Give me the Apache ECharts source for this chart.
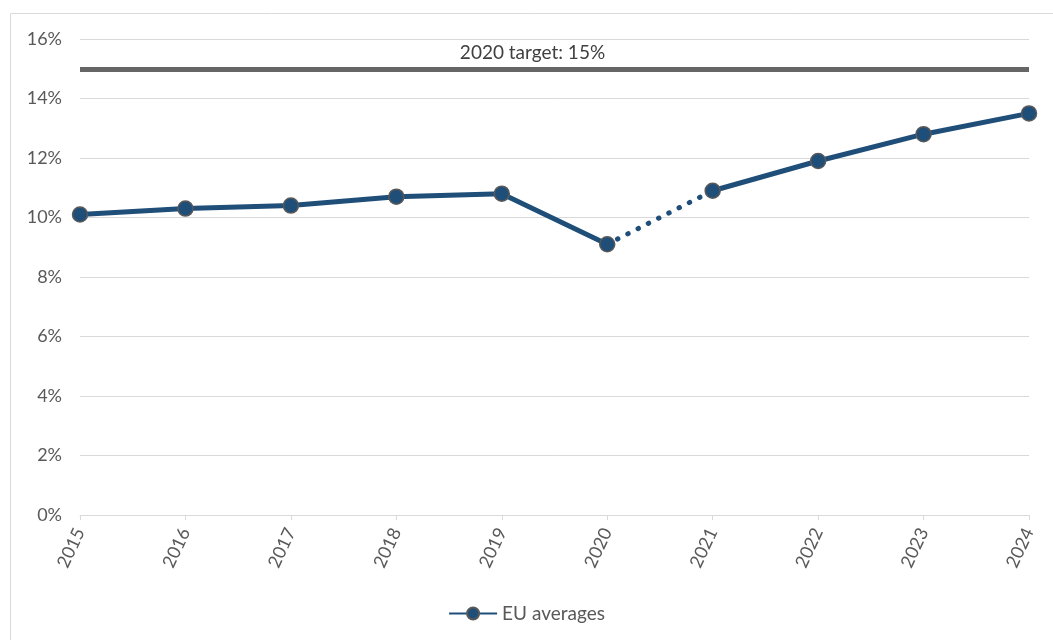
<!DOCTYPE html>
<html>
<head>
<meta charset="utf-8">
<script src="https://cdn.jsdelivr.net/npm/echarts@6/dist/echarts.min.js"></script>
<style>
  html, body { margin: 0; padding: 0; background: #fff; }
  #chart { width: 1053px; height: 640px; }
</style>
</head>
<body>
<div id="chart"></div>
<script>
/* -------------------------------------------------------------------------- */
/*                          EU averages vs 2020 target                        */
/* -------------------------------------------------------------------------- */

const years = ['2015', '2016', '2017', '2018', '2019', '2020', '2021', '2022', '2023', '2024'];
const euAverages = [10.1, 10.3, 10.4, 10.7, 10.8, 9.1, 10.9, 11.9, 12.8, 13.5];
const targetValue = 15;
const targetLabel = '2020 target: 15%';
const yTicks = { min: 0, max: 16, interval: 2 };

// split the series so 2020 -> 2021 can be dotted
const gapFrom = years.indexOf('2020');
const gapTo = years.indexOf('2021');
const beforeGap = euAverages.map((v, i) => (i <= gapFrom ? v : null));
const afterGap = euAverages.map((v, i) => (i >= gapTo ? v : null));
const gapPart = euAverages.map((v, i) => (i === gapFrom || i === gapTo ? v : null));

const blue = '#1f4e79';
const font = 'Lato, "Open Sans", sans-serif';

const chart = echarts.init(document.getElementById('chart'));

const markerStyle = {
  color: blue,
  borderColor: '#595959',
  borderWidth: 1.5,
};

chart.setOption({
  animation: false,
  textStyle: { fontFamily: font },
  graphic: [
    {
      type: 'rect',
      shape: { x: 10.5, y: 13.5, width: 1100, height: 700 },
      style: { fill: 'none', stroke: '#d9d9d9', lineWidth: 1 },
      silent: true,
    },
  ],
  grid: {
    left: 80,
    right: 24,
    top: 39,
    bottom: 125,
  },
  legend: {
    data: ['EU averages'],
    bottom: 12,
    left: 'center',
    itemWidth: 48,
    itemHeight: 15,
    itemGap: 4,
    textStyle: { color: '#595959', fontSize: 19, fontFamily: font },
  },
  xAxis: {
    type: 'category',
    data: years,
    boundaryGap: false,
    axisLine: { lineStyle: { color: '#d9d9d9', width: 1 } },
    axisTick: { show: true, length: 5, lineStyle: { color: '#d9d9d9' } },
    axisLabel: {
      color: '#595959',
      fontSize: 18,
      rotate: 65,
      margin: 14,
    },
  },
  yAxis: {
    type: 'value',
    min: yTicks.min,
    max: yTicks.max,
    interval: yTicks.interval,
    axisLine: { show: false },
    axisTick: { show: false },
    splitLine: { lineStyle: { color: '#d9d9d9', width: 1 } },
    axisLabel: {
      color: '#595959',
      fontSize: 18,
      margin: 18,
      formatter: '{value}%',
    },
  },
  series: [
    {
      name: 'gap',
      type: 'line',
      data: gapPart,
      showSymbol: false,
      connectNulls: false,
      lineStyle: { color: blue, width: 5, type: [0.5, 11], cap: 'round' },
      z: 2,
      markLine: {
        silent: true,
        symbol: 'none',
        data: [{ yAxis: targetValue }],
        lineStyle: { color: '#666666', width: 5, type: 'solid' },
        label: {
          show: true,
          position: 'middle',
          formatter: targetLabel,
          color: '#404040',
          fontSize: 19,
          fontFamily: font,
          offset: [-22, 0],
          distance: 6,
        },
      },
    },
    {
      name: 'EU averages',
      type: 'line',
      data: beforeGap,
      symbol: 'circle',
      symbolSize: 15,
      itemStyle: markerStyle,
      lineStyle: { color: blue, width: 5 },
      z: 3,
    },
    {
      name: 'EU averages',
      type: 'line',
      data: afterGap,
      symbol: 'circle',
      symbolSize: 15,
      itemStyle: markerStyle,
      lineStyle: { color: blue, width: 5 },
      z: 3,
    },
  ],
});
</script>
</body>
</html>
